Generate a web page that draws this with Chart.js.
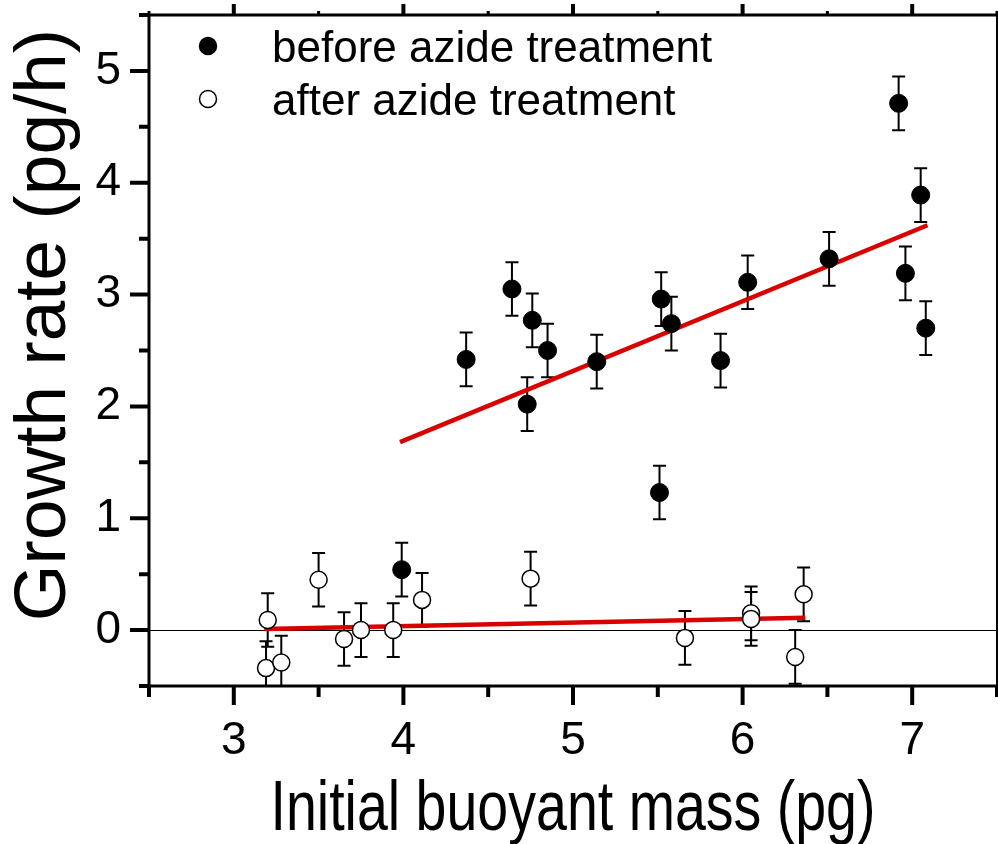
<!DOCTYPE html>
<html lang="en">
<head>
<meta charset="UTF-8" />
<title>Growth rate vs initial buoyant mass</title>
<style>
  html, body { margin: 0; padding: 0; background: #fff; }
  #wrap { width: 998px; height: 844px; }
</style>
</head>
<body>
<div id="wrap"><canvas id="chart" width="998" height="844"></canvas></div>

<script src="https://cdn.jsdelivr.net/npm/chart.js"></script>
<script>
  // cells before azide treatment (filled circles)
  const beforeMass = [3.99, 4.37, 4.64, 4.76, 4.73, 4.85, 5.14, 5.52, 5.58, 5.51, 5.87, 6.03, 6.51, 6.92, 6.96, 7.05, 7.08];
  const beforeRate = [0.54, 2.42, 3.05, 2.77, 2.02, 2.50, 2.40, 2.96, 2.74, 1.23, 2.41, 3.11, 3.32, 4.71, 3.19, 3.89, 2.70];
  const beforeErr  = [0.24, 0.24, 0.24, 0.24, 0.24, 0.24, 0.24, 0.24, 0.24, 0.24, 0.24, 0.24, 0.24, 0.24, 0.24, 0.24, 0.24];

  // same cells after azide treatment (open circles)
  const afterMass = [3.20, 3.19, 3.28, 3.50, 3.65, 3.75, 3.94, 4.11, 4.75, 5.66, 6.05, 6.05, 6.36, 6.31];
  const afterRate = [0.09, -0.34, -0.29, 0.45, -0.08, 0.00, 0.00, 0.27, 0.46, -0.07, 0.15, 0.10, 0.32, -0.24];
  const afterErr  = [0.24, 0.24, 0.24, 0.24, 0.24, 0.24, 0.24, 0.24, 0.24, 0.24, 0.24, 0.24, 0.24, 0.24];

  // linear fits
  const fitBeforeMass = [3.98, 7.09];
  const fitBeforeRate = [1.68, 3.62];
  const fitAfterMass = [3.18, 6.37];
  const fitAfterRate = [0.01, 0.11];

  // axis ticks
  const xMajor = [3, 4, 5, 6, 7];
  const xMinor = [2.5, 3.5, 4.5, 5.5, 6.5, 7.5];
  const yMajor = [0, 1, 2, 3, 4, 5];
  const yMinor = [-0.5, 0.5, 1.5, 2.5, 3.5, 4.5, 5.5];

  const xTitle = 'Initial buoyant mass (pg)';
  const yTitle = 'Growth rate (pg/h)';

  const FONT = "'Liberation Sans', Arial, sans-serif";

  const toPoints = (xs, ys) => xs.map((v, i) => ({ x: v, y: ys[i] }));

  // vertical error bars with caps, drawn under the markers
  const errorBars = {
    id: 'errorBars',
    beforeDatasetsDraw(chart) {
      const { ctx, chartArea: a, scales: { x, y } } = chart;
      ctx.save();
      ctx.beginPath();
      ctx.rect(a.left, a.top, a.right - a.left, a.bottom - a.top);
      ctx.clip();
      ctx.strokeStyle = '#000';
      ctx.lineWidth = 2;
      chart.data.datasets.forEach(ds => {
        if (!ds.errors) return;
        ds.data.forEach((p, i) => {
          const e = ds.errors[i];
          const px = x.getPixelForValue(p.x);
          const t = y.getPixelForValue(p.y + e);
          const b = y.getPixelForValue(p.y - e);
          ctx.beginPath();
          ctx.moveTo(px, t); ctx.lineTo(px, b);
          ctx.moveTo(px - 6.5, t); ctx.lineTo(px + 6.5, t);
          ctx.moveTo(px - 6.5, b); ctx.lineTo(px + 6.5, b);
          ctx.stroke();
        });
      });
      ctx.restore();
    }
  };

  // box frame, outward ticks, axis titles and the in-plot legend
  const frame = {
    id: 'frame',
    afterDraw(chart) {
      const { ctx, chartArea: a, scales: { x, y } } = chart;
      ctx.save();
      ctx.strokeStyle = '#000';
      ctx.lineCap = 'butt';

      ctx.lineWidth = 3;
      ctx.beginPath();
      ctx.moveTo(a.left, a.top); ctx.lineTo(a.right, a.top);
      ctx.moveTo(a.left, a.bottom + 1.5); ctx.lineTo(a.left, a.top - 1.5);
      ctx.moveTo(a.left - 1.5, a.bottom); ctx.lineTo(a.right, a.bottom);
      ctx.stroke();
      ctx.lineWidth = 2;
      ctx.beginPath();
      ctx.moveTo(a.right, a.top - 1.5); ctx.lineTo(a.right, a.bottom);
      ctx.stroke();

      const tick = (list, len, w, fn) => {
        ctx.lineWidth = w;
        ctx.beginPath();
        list.forEach(v => fn(v, len));
        ctx.stroke();
      };
      const bottom = (v, len) => { const p = x.getPixelForValue(v); ctx.moveTo(p, a.bottom); ctx.lineTo(p, a.bottom + len); };
      const top = (v, len) => { const p = x.getPixelForValue(v); ctx.moveTo(p, a.top); ctx.lineTo(p, a.top - len); };
      const left = (v, len) => { const p = y.getPixelForValue(v); ctx.moveTo(a.left, p); ctx.lineTo(a.left - len, p); };
      tick(xMajor, 19, 4, bottom);
      tick(xMinor, 11, 4, bottom);
      tick(xMajor, 11, 4, top);
      tick(xMinor, 4, 3, top);
      tick(yMajor, 19, 4, left);
      tick(yMinor, 10, 4, left);

      ctx.fillStyle = '#000';
      ctx.textAlign = 'center';

      // y axis title
      ctx.font = `73px ${FONT}`;
      ctx.textBaseline = 'middle';
      ctx.save();
      ctx.translate(45, 325);
      ctx.rotate(-Math.PI / 2);
      ctx.fillText(yTitle, 0, 0);
      ctx.restore();

      // x axis title, set in a narrow face
      ctx.font = `70px ${FONT}`;
      ctx.textBaseline = 'alphabetic';
      ctx.save();
      ctx.translate((a.left + a.right) / 2, 830);
      ctx.scale(605 / ctx.measureText(xTitle).width, 1);
      ctx.fillText(xTitle, 0, 0);
      ctx.restore();

      // legend
      const items = chart.data.datasets.filter(d => d.showInLegend);
      ctx.font = `44px ${FONT}`;
      ctx.textAlign = 'left';
      items.forEach((d, i) => {
        const cy = 46 + i * 53;
        ctx.beginPath();
        ctx.arc(208, cy, 8.5, 0, Math.PI * 2);
        ctx.fillStyle = d.pointBackgroundColor;
        ctx.fill();
        ctx.lineWidth = 1.5;
        ctx.strokeStyle = '#000';
        ctx.stroke();
        ctx.fillStyle = '#000';
        ctx.fillText(d.label, 272, cy + 16);
      });
      ctx.restore();
    }
  };

  new Chart(document.getElementById('chart'), {
    type: 'scatter',
    data: {
      datasets: [
        {
          label: 'before azide treatment',
          showInLegend: true,
          data: toPoints(beforeMass, beforeRate),
          errors: beforeErr,
          pointRadius: 9,
          pointBackgroundColor: '#000',
          pointBorderColor: '#000',
          pointBorderWidth: 1
        },
        {
          label: 'after azide treatment',
          showInLegend: true,
          data: toPoints(afterMass, afterRate),
          errors: afterErr,
          pointRadius: 8.5,
          pointBackgroundColor: '#fff',
          pointBorderColor: '#000',
          pointBorderWidth: 1.5
        },
        {
          label: 'fit before',
          data: toPoints(fitBeforeMass, fitBeforeRate),
          showLine: true,
          borderColor: '#d90000',
          borderWidth: 4.5,
          pointRadius: 0
        },
        {
          label: 'fit after',
          data: toPoints(fitAfterMass, fitAfterRate),
          showLine: true,
          borderColor: '#d90000',
          borderWidth: 4.5,
          pointRadius: 0
        }
      ]
    },
    options: {
      responsive: false,
      animation: false,
      devicePixelRatio: 1,
      layout: { autoPadding: false, padding: { top: 15, right: 1, left: 0, bottom: 0 } },
      plugins: {
        legend: { display: false },
        tooltip: { enabled: false }
      },
      scales: {
        x: {
          type: 'linear',
          min: 2.5,
          max: 7.5,
          afterBuildTicks: s => { s.ticks = xMajor.map(v => ({ value: v })); },
          afterFit: s => { s.height = 158; s.paddingLeft = 0; s.paddingRight = 0; },
          border: { display: false },
          grid: { display: false },
          ticks: {
            padding: 20,
            color: '#000',
            font: { family: FONT, size: 46 },
            maxRotation: 0
          }
        },
        y: {
          type: 'linear',
          min: -0.5,
          max: 5.5,
          afterBuildTicks: s => { s.ticks = yMajor.map(v => ({ value: v })); },
          afterFit: s => { s.width = 149; s.paddingTop = 0; s.paddingBottom = 0; },
          border: { display: false },
          grid: {
            drawTicks: false,
            color: c => (c.tick && c.tick.value === 0 ? '#000' : 'rgba(0,0,0,0)'),
            lineWidth: 1
          },
          ticks: {
            padding: 28,
            color: '#000',
            font: { family: FONT, size: 46 }
          }
        }
      }
    },
    plugins: [errorBars, frame]
  });
</script>
</body>
</html>
